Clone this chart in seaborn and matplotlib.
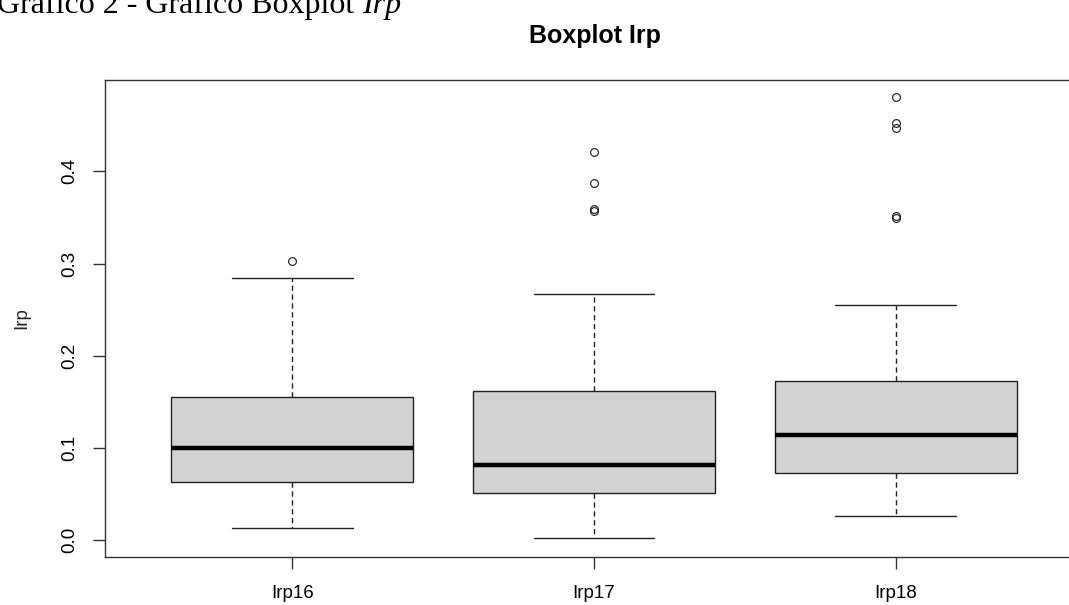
import matplotlib
matplotlib.use("Agg")
import matplotlib.pyplot as plt
import numpy as np
import pandas as pd
import seaborn as sns

# Irp samples per year (values chosen so the quartiles, whiskers and
# outliers come out as published)
groups = ["Irp16", "Irp17", "Irp18"]
irp16 = [0.013, 0.063, 0.063, 0.100, 0.100, 0.155, 0.155, 0.284, 0.303]
irp17 = [0.002,
         0.051, 0.051, 0.051, 0.051, 0.051,
         0.081, 0.081, 0.081, 0.081, 0.081,
         0.162, 0.162, 0.162, 0.162, 0.162,
         0.267, 0.357, 0.359, 0.387, 0.421]
irp18 = [0.026,
         0.073, 0.073, 0.073, 0.073, 0.073, 0.073,
         0.114, 0.114, 0.114, 0.114, 0.114, 0.114,
         0.172, 0.172, 0.172, 0.172, 0.172, 0.172,
         0.255, 0.349, 0.352, 0.447, 0.452, 0.481]
yticks = [0.0, 0.1, 0.2, 0.3, 0.4]
ytick_labels = ["0.0", "0.1", "0.2", "0.3", "0.4"]

df = pd.DataFrame({
    "grupo": ["Irp16"] * len(irp16) + ["Irp17"] * len(irp17) + ["Irp18"] * len(irp18),
    "Irp": irp16 + irp17 + irp18,
})

sns.set_theme(style="white")
plt.rcParams["font.family"] = ["Liberation Sans", "DejaVu Sans"]

W, H = 1069, 605
fig = plt.figure(figsize=(W / 100, H / 100), dpi=100)
left, right, top, bottom = 105, 1083, 80, 557
ax = fig.add_axes([left / W, 1 - bottom / H, (right - left) / W, (bottom - top) / H])

line_col = "#222222"
sns.boxplot(
    data=df, x="grupo", y="Irp", order=groups, ax=ax,
    color="#D3D3D3", saturation=1, width=0.8, whis=1.5,
    linecolor=line_col, linewidth=1.0,
    boxprops=dict(facecolor="#D3D3D3", edgecolor=line_col, linewidth=1.0),
    medianprops=dict(color="black", linewidth=3.2, solid_capstyle="butt"),
    whiskerprops=dict(color=line_col, linewidth=1.0, linestyle=(0, (3.8, 2.6))),
    capprops=dict(color=line_col, linewidth=1.0),
    flierprops=dict(marker="o", markersize=5.6, markerfacecolor="none",
                    markeredgecolor=line_col, markeredgewidth=0.85),
)

ax.set_xlim(-0.62, 2.62)
ax.set_ylim(-0.0185, 0.4992)
ax.set_yticks(yticks)
ax.set_yticklabels(ytick_labels)
ax.set_xlabel("")
ax.set_ylabel("Irp", fontsize=13.5)
ax.yaxis.set_label_coords((30 - left) / (right - left), 0.5)

for s in ax.spines.values():
    s.set_visible(True)
    s.set_color("#333333")
    s.set_linewidth(1.0)

ax.tick_params(axis="both", which="major", direction="out", length=8.6,
               width=1.0, color="#333333", labelsize=13.5, labelcolor="black",
               left=True, bottom=True)
ax.tick_params(axis="y", labelrotation=90, pad=11)
ax.tick_params(axis="x", pad=11.5)
for lbl in ax.get_yticklabels():
    lbl.set_va("center")

fig.text(595 / W, 1 - 36 / H, "Boxplot Irp", ha="center", va="center",
         fontsize=18, fontweight="bold", color="black")

# caption above the figure
serif = ["Liberation Serif", "DejaVu Serif"]
cap = fig.text(-3 / W, 1 - 13 / H, "Gráfico 2 - Gráfico Boxplot ",
               ha="left", va="baseline", fontsize=23, family=serif, color="black")
fig.canvas.draw()
bb = cap.get_window_extent(renderer=fig.canvas.get_renderer())
fig.text(bb.x1 / W, 1 - 13 / H, "Irp", ha="left", va="baseline",
         fontsize=23, family=serif, style="italic", color="black")

fig.savefig("out.png", dpi=100)
